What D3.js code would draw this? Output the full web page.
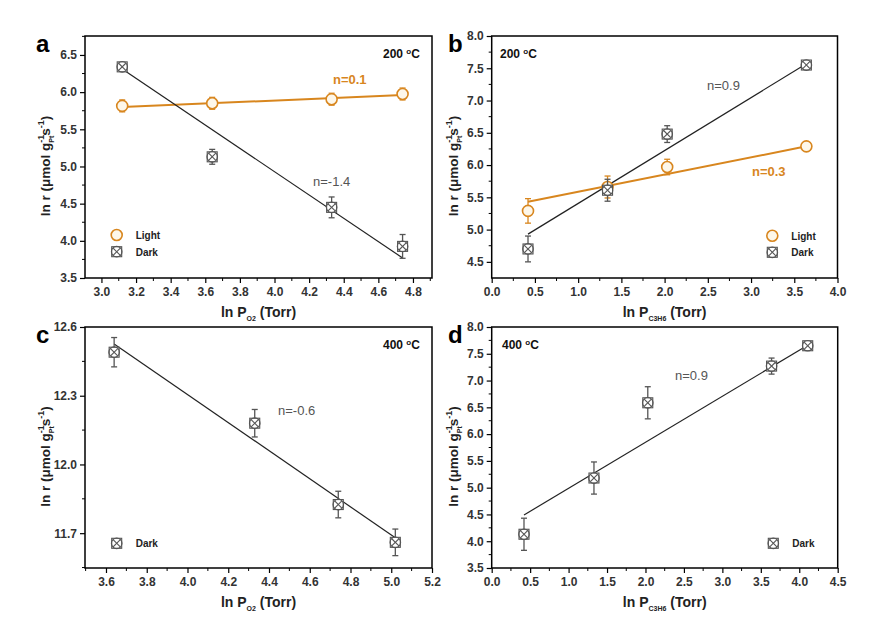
<!DOCTYPE html>
<html><head><meta charset="utf-8">
<script src="https://cdn.jsdelivr.net/npm/d3@7"></script>
<style>body{margin:0;background:#fff}svg{display:block;font-family:"Liberation Sans",Arial,sans-serif}</style>
</head><body><svg id="c" width="880" height="633"></svg>
<script>
// ---------- data ----------
const aX = [3.12, 3.64, 4.33, 4.74];
const aLightY = [5.815, 5.85, 5.905, 5.975];
const aLightErr = [0.08, 0.08, 0.08, 0.08];
const aDarkY = [6.34, 5.13, 4.45, 3.925];
const aDarkErr = [0.03, 0.10, 0.14, 0.16];
const aLightFit = [[3.12, 5.80], [4.74, 5.96]];
const aDarkFit = [[3.12, 6.31], [4.74, 3.77]];

const bX = [0.42, 1.34, 2.03, 3.64];
const bLightY = [5.29, 5.66, 5.97, 6.29];
const bLightErr = [0.19, 0.17, 0.12, 0.03];
const bDarkY = [4.70, 5.61, 6.48, 7.55];
const bDarkErr = [0.20, 0.17, 0.13, 0.03];
const bLightFit = [[0.42, 5.43], [3.64, 6.29]];
const bDarkFit = [[0.42, 4.93], [3.64, 7.57]];

const cX = [3.64, 4.33, 4.74, 5.02];
const cDarkY = [12.49, 12.18, 11.825, 11.66];
const cDarkErr = [0.064, 0.06, 0.058, 0.058];
const cDarkFit = [[3.64, 12.526], [5.02, 11.68]];

const dX = [0.42, 1.33, 2.03, 3.64, 4.11];
const dDarkY = [4.13, 5.18, 6.585, 7.27, 7.65];
const dDarkErr = [0.30, 0.30, 0.30, 0.15, 0.03];
const dDarkFit = [[0.42, 4.49], [4.11, 7.66]];

const aXTicks = [3.0, 3.2, 3.4, 3.6, 3.8, 4.0, 4.2, 4.4, 4.6, 4.8];
const aYTicks = [3.5, 4.0, 4.5, 5.0, 5.5, 6.0, 6.5];
const bXTicks = [0.0, 0.5, 1.0, 1.5, 2.0, 2.5, 3.0, 3.5, 4.0];
const bYTicks = [4.5, 5.0, 5.5, 6.0, 6.5, 7.0, 7.5, 8.0];
const cXTicks = [3.6, 3.8, 4.0, 4.2, 4.4, 4.6, 4.8, 5.0, 5.2];
const cYTicks = [11.7, 12.0, 12.3, 12.6];
const dXTicks = [0.0, 0.5, 1.0, 1.5, 2.0, 2.5, 3.0, 3.5, 4.0, 4.5];
const dYTicks = [3.5, 4.0, 4.5, 5.0, 5.5, 6.0, 6.5, 7.0, 7.5, 8.0];

// ---------- drawing ----------
const ORANGE = "#d8861e", GRAY = "#555", DARKLINE = "#222";
const svg = d3.select("#c");

function panel(o) {
  const g = svg.append("g");
  const x = d3.scaleLinear().domain(o.xd).range([o.L, o.R]);
  const y = d3.scaleLinear().domain(o.yd).range([o.B, o.T]);
  // minor ticks
  const xMinor = [], yMinor = [];
  for (let i = 0; i < o.xt.length - 1; i++) xMinor.push((o.xt[i] + o.xt[i + 1]) / 2);
  const xs = o.xt[1] - o.xt[0];
  if (x(o.xt[0] - xs / 2) > o.L) xMinor.push(o.xt[0] - xs / 2);
  if (x(o.xt[o.xt.length - 1] + xs / 2) < o.R) xMinor.push(o.xt[o.xt.length - 1] + xs / 2);
  for (let i = 0; i < o.yt.length - 1; i++) yMinor.push((o.yt[i] + o.yt[i + 1]) / 2);
  const ys = o.yt[1] - o.yt[0];
  if (y(o.yt[0] - ys / 2) < o.B) yMinor.push(o.yt[0] - ys / 2);
  if (y(o.yt[o.yt.length - 1] + ys / 2) > o.T) yMinor.push(o.yt[o.yt.length - 1] + ys / 2);

  const xa = g.append("g").attr("transform", `translate(0,${o.B})`)
    .call(d3.axisBottom(x).tickValues(o.xt).tickSize(5).tickFormat(d3.format(".1f")));
  xa.append("g").selectAll("line").data(xMinor).join("line")
    .attr("x1", d => x(d)).attr("x2", d => x(d)).attr("y1", 0).attr("y2", 3).attr("stroke", "#000");
  const ya = g.append("g").attr("transform", `translate(${o.L},0)`)
    .call(d3.axisLeft(y).tickValues(o.yt).tickSize(5).tickFormat(d3.format(".1f")));
  ya.append("g").selectAll("line").data(yMinor).join("line")
    .attr("y1", d => y(d)).attr("y2", d => y(d)).attr("x1", 0).attr("x2", -3).attr("stroke", "#000");
  [xa, ya].forEach(a => {
    a.select(".domain").remove();
    a.selectAll(".tick line").attr("stroke", "#000").attr("stroke-width", 1.2);
    a.selectAll("text").attr("font-size", 12).attr("font-weight", "bold").attr("fill", "#333")
      .attr("font-family", "'Liberation Sans',Arial,sans-serif");
  });
  xa.selectAll(".tick text").attr("dy", "0.85em");
  // frame
  g.append("rect").attr("x", o.L).attr("y", o.T).attr("width", o.R - o.L).attr("height", o.B - o.T)
    .attr("fill", "none").attr("stroke", "#000").attr("stroke-width", 1.5);

  // fits
  const line = d3.line().x(d => x(d[0])).y(d => y(d[1]));
  o.series.forEach(s => {
    g.append("path").attr("d", line(s.fit)).attr("fill", "none")
      .attr("stroke", s.light ? ORANGE : DARKLINE).attr("stroke-width", s.light ? 2 : 1.2);
  });
  // points
  o.series.forEach(s => {
    const col = s.light ? ORANGE : GRAY;
    const pts = o.xv.map((xv, i) => ({ x: xv, y: s.y[i], e: s.err[i] }));
    const eg = g.append("g").attr("stroke", col).attr("stroke-width", 1.3);
    pts.forEach(p => {
      const cx = x(p.x), y1 = y(p.y - p.e), y2 = y(p.y + p.e);
      eg.append("line").attr("x1", cx).attr("x2", cx).attr("y1", y1).attr("y2", y2);
      eg.append("line").attr("x1", cx - 3).attr("x2", cx + 3).attr("y1", y1).attr("y2", y1);
      eg.append("line").attr("x1", cx - 3).attr("x2", cx + 3).attr("y1", y2).attr("y2", y2);
    });
    pts.forEach(p => marker(g, x(p.x), y(p.y), s.light));
  });
  // legend
  o.legend.forEach((l, i) => {
    marker(g, l.x, l.y, l.light);
    g.append("text").attr("x", l.x + 19).attr("y", l.y + 4).text(l.light ? "Light" : "Dark")
      .attr("font-size", 10).attr("font-weight", "bold").attr("fill", "#222");
  });
  // annotations
  o.notes.forEach(n => {
    g.append("text").attr("x", n.x).attr("y", n.y).text(n.t).attr("font-size", n.fs || 13)
      .attr("font-weight", n.bold ? "bold" : "normal").attr("fill", n.c);
  });
  // temp
  g.append("text").attr("x", o.temp[0]).attr("y", o.temp[1]).attr("font-size", 12).attr("font-weight", "bold")
    .attr("fill", "#111").html(o.temp[2] + ' <tspan dy="-4" font-size="8">o</tspan><tspan dy="4">C</tspan>');
  // panel letter
  g.append("text").attr("x", o.letter[0]).attr("y", o.letter[1]).text(o.letter[2])
    .attr("font-size", 24).attr("font-weight", "bold").attr("fill", "#000");
  // y label
  const yl = g.append("text").attr("transform", `translate(${o.ylx},${(o.T + o.B) / 2 + 9}) rotate(-90)`)
    .attr("text-anchor", "middle").attr("font-size", 13.5).attr("font-weight", "bold").attr("fill", "#222");
  yl.append("tspan").text("ln r (μmol g");
  yl.append("tspan").attr("dy", -6).attr("font-size", 9).text("-1");
  yl.append("tspan").attr("dx", -8).attr("dy", 10).attr("font-size", 7).text("Pt");
  yl.append("tspan").attr("dy", -4).text("s");
  yl.append("tspan").attr("dy", -6).attr("font-size", 9).text("-1");
  yl.append("tspan").attr("dy", 6).text(")");
  // x label
  const xl = g.append("text").attr("x", (o.L + o.R) / 2).attr("y", o.B + 39).attr("text-anchor", "middle")
    .attr("font-size", 14).attr("font-weight", "bold").attr("fill", "#222");
  xl.append("tspan").text("ln P");
  xl.append("tspan").attr("dy", 4).attr("font-size", 7).text(o.xsub);
  xl.append("tspan").attr("dy", -4).text(" (Torr)");
}

function marker(g, cx, cy, light) {
  if (light) {
    g.append("circle").attr("cx", cx).attr("cy", cy).attr("r", 5.5)
      .attr("fill", "#fdf7ea").attr("stroke", ORANGE).attr("stroke-width", 1.6);
  } else {
    const m = g.append("g").attr("stroke", GRAY).attr("stroke-width", 1.1).attr("fill", "none");
    m.append("rect").attr("x", cx - 5).attr("y", cy - 5).attr("width", 10).attr("height", 10).attr("fill", "#fff");
    m.append("circle").attr("cx", cx).attr("cy", cy).attr("r", 5.3);
    m.append("line").attr("x1", cx - 3.6).attr("y1", cy - 3.6).attr("x2", cx + 3.6).attr("y2", cy + 3.6);
    m.append("line").attr("x1", cx - 3.6).attr("y1", cy + 3.6).attr("x2", cx + 3.6).attr("y2", cy - 3.6);
  }
}

panel({
  L: 85, R: 432, T: 36, B: 278, xd: [2.905, 4.91], yd: [3.5, 6.755], xt: aXTicks, yt: aYTicks, xv: aX,
  series: [{ light: true, y: aLightY, err: aLightErr, fit: aLightFit }, { light: false, y: aDarkY, err: aDarkErr, fit: aDarkFit }],
  legend: [{ x: 116.7, y: 235, light: true }, { x: 116.7, y: 251.7, light: false }],
  notes: [{ x: 333, y: 84, t: "n=0.1", c: ORANGE, bold: true }, { x: 313, y: 186, t: "n=-1.4", c: GRAY }],
  temp: [383, 58, "200"], letter: [36, 52, "a"], ylx: 50, xsub: "O2"
});
panel({
  L: 491.7, R: 837.5, T: 36, B: 278, xd: [0, 4], yd: [4.25, 8.0], xt: bXTicks, yt: bYTicks, xv: bX,
  series: [{ light: true, y: bLightY, err: bLightErr, fit: bLightFit }, { light: false, y: bDarkY, err: bDarkErr, fit: bDarkFit }],
  legend: [{ x: 772.3, y: 235.7, light: true }, { x: 772.3, y: 252.3, light: false }],
  notes: [{ x: 707, y: 90, t: "n=0.9", c: GRAY }, { x: 752, y: 176, t: "n=0.3", c: ORANGE, bold: true }],
  temp: [500, 58, "200"], letter: [448, 52, "b"], ylx: 458, xsub: "C3H6"
});
panel({
  L: 85, R: 432, T: 327, B: 568, xd: [3.497, 5.2], yd: [11.548, 12.6], xt: cXTicks, yt: cYTicks, xv: cX,
  series: [{ light: false, y: cDarkY, err: cDarkErr, fit: cDarkFit }],
  legend: [{ x: 116.7, y: 543.3, light: false }],
  notes: [{ x: 278, y: 415, t: "n=-0.6", c: GRAY }],
  temp: [383, 349, "400"], letter: [36, 343, "c"], ylx: 50, xsub: "O2"
});
panel({
  L: 491.7, R: 837.7, T: 327, B: 568, xd: [0, 4.5], yd: [3.5, 8.0], xt: dXTicks, yt: dYTicks, xv: dX,
  series: [{ light: false, y: dDarkY, err: dDarkErr, fit: dDarkFit }],
  legend: [{ x: 773.3, y: 543.3, light: false }],
  notes: [{ x: 675, y: 380, t: "n=0.9", c: GRAY }],
  temp: [502, 349, "400"], letter: [448, 343, "d"], ylx: 458, xsub: "C3H6"
});
</script></body></html>
